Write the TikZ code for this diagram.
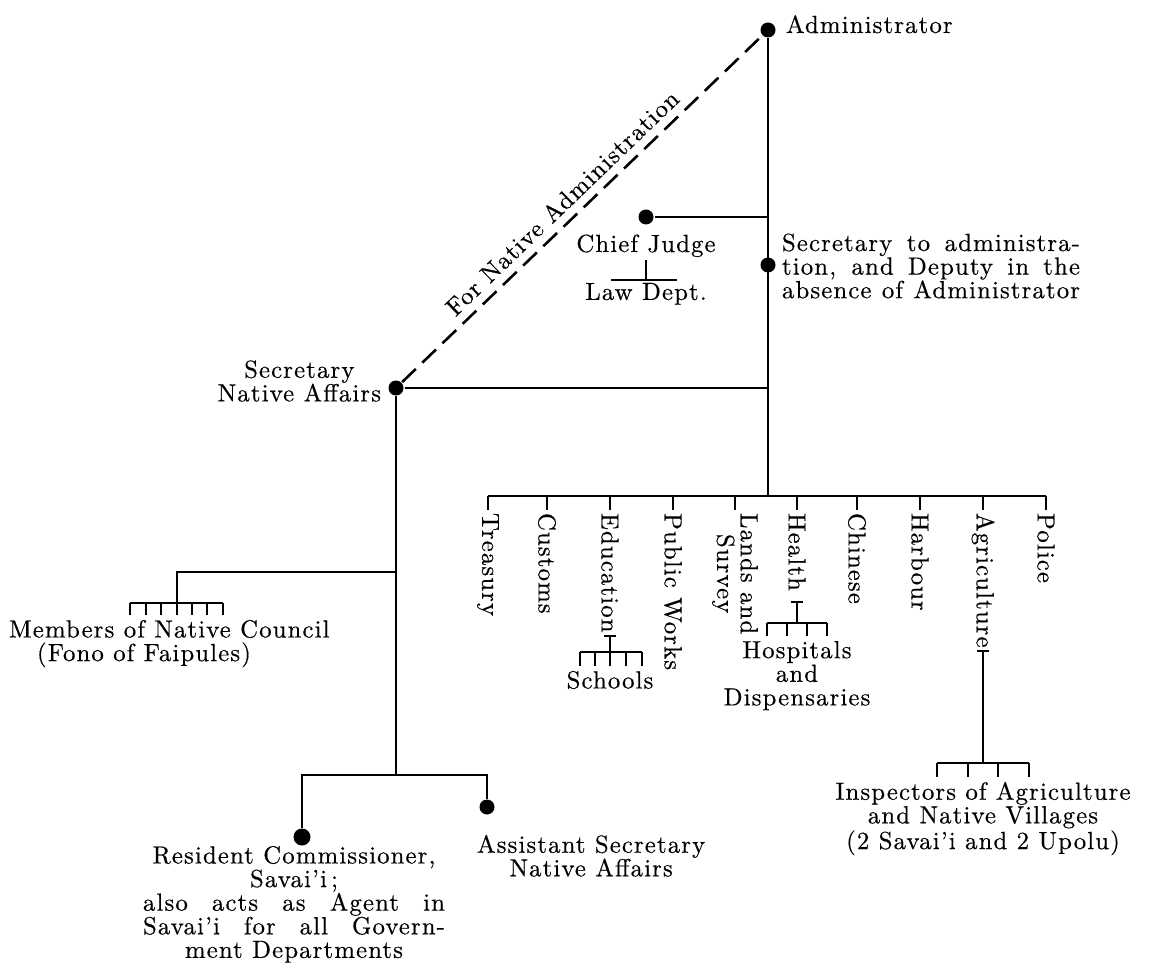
\documentclass[tikz,border=0pt]{standalone}
\usepackage{fontspec}
\setmainfont{lmroman10-regular.otf}[LetterSpace=4.5,FakeBold=0.4]
\usetikzlibrary{positioning}
\newcommand{\chartfont}{\fontsize{12.4pt}{11.8pt}\selectfont}
\tikzset{
  blob/.style={circle,fill,inner sep=0pt,minimum size=7.5pt},
  lbl/.style={font=\chartfont,inner sep=1pt},
  dept/.style={lbl,rotate=-90,anchor=west,align=center},
  natlink/.style={line width=1.3pt,dash pattern=on 9.5pt off 4.5pt},
}
\begin{document}
\begin{tikzpicture}[x=0.5pt,y=-0.5pt,line width=1pt]
    \useasboundingbox (0,0) rectangle (1152,978);
    \node[blob] (admin) at (768,30) {};
    \node[lbl,anchor=base west] (adminlbl) at (783,33) {Administrator};
    \node[blob] (sec) at (768,265) {};
    \node[lbl,anchor=west,align=left] (seclbl) at (779,266) {\makebox[149pt][s]{Secretary to administra-}\\\makebox[149pt][s]{tion, and Deputy in the}\\\makebox[149pt][s]{absence of Administrator}};
    \node[blob] (judge) at (646,217) {};
    \node[lbl,below=3pt of judge] (judgelbl) {Chief Judge};
    \coordinate (lawbar) at (646,280);
    \node[lbl,below=0pt of lawbar] (law) {Law Dept.};
    \node[blob] (sna) at (396,388) {};
    \node[lbl,anchor=east,align=center] (snalbl) at (384,381) {Secretary\\Native Affairs};
    \coordinate (deptbar) at (768,496);

    \draw (admin)--(admin|-deptbar);
    \draw (judge)--(judge-|admin);
    \draw (judgelbl)--(lawbar);
    \draw (611,280)--(677,280);
    \draw (sna)--(sna-|admin);
    \draw[natlink] (sna)--(admin) node[lbl,pos=0.48,sloped,above=3pt] {For Native Administration};

    \draw (488,496)--(1046,496);
    \foreach \x/\name/\txt in {488/treas/Treasury,547/cust/Customs,610/edu/Education,673/pw/Public Works,735/lands/{Lands and\\Survey},797/health/Health,857/chin/Chinese,920/harb/Harbour,983/agri/Agriculture,1046/pol/Police}{
        \draw (\x,496)--(\x,510);
        \node[dept] (\name) at (\x,510) {\txt};
    }

    \coordinate (schoolbar) at (610,652);
    \draw ([xshift=-3pt]edu.east)--([xshift=3pt]edu.east);
    \draw (edu.east)--(edu.east|-schoolbar);
    \draw (580,652)--(642,652);
    \foreach \x in {580,595,610,626,642} \draw (\x,652)--(\x,666);
    \node[lbl,anchor=north] (schools) at (610,668) {Schools};

    \coordinate (healthtee) at ([yshift=-4pt]health.east);
    \coordinate (hospbar) at (797,623);
    \draw ([xshift=-3pt]healthtee)--([xshift=3pt]healthtee);
    \draw (healthtee)--(healthtee|-hospbar);
    \draw (767,623)--(827,623);
    \foreach \x in {767,787,807,827} \draw (\x,623)--(\x,636);
    \node[lbl,anchor=north,align=center] (hosp) at (797,638) {Hospitals\\and\\Dispensaries};

    \coordinate (inspbar) at (983,763);
    \draw ([xshift=-3pt]agri.east)--([xshift=3pt]agri.east);
    \draw (agri.east)--(inspbar);
    \draw (937,763)--(1029,763);
    \foreach \x in {937,968,998,1029} \draw (\x,763)--(\x,777);
    \node[lbl,anchor=north,align=center] (insp) at (983,779) {Inspectors of Agriculture\\and Native Villages\\(2 Savai'i and 2 Upolu)};

    \coordinate (membjoin) at (396,572);
    \coordinate (membbar) at (177,603);
    \draw (membjoin)-|(membbar);
    \draw (130,603)--(223,603);
    \foreach \x in {130,146,161,177,192,207,223} \draw (\x,603)--(\x,615);
    \node[lbl,anchor=north west,align=left] (memb) at (6,617) {Members of Native Council\\\hspace*{14pt}(Fono of Faipules)};

    \coordinate (resbar) at (396,775);
    \draw (sna)--(resbar);
    \node[blob,minimum size=8.5pt] (res) at (302,837) {};
    \node[blob] (asst) at (487,807) {};
    \draw (res)|-(resbar);
    \draw (asst)|-(resbar);
    \node[lbl,anchor=north,align=center] (reslbl) at (294,843) {Resident Commissioner,\\Savai'i\,;\\\makebox[151pt][s]{also acts as Agent in}\\\makebox[151pt][s]{Savai'i for all Govern-}\\ment Departments};
    \node[lbl,anchor=north west,align=center] (asstlbl) at (474,832) {Assistant Secretary\\Native Affairs};
\end{tikzpicture}
\end{document}
